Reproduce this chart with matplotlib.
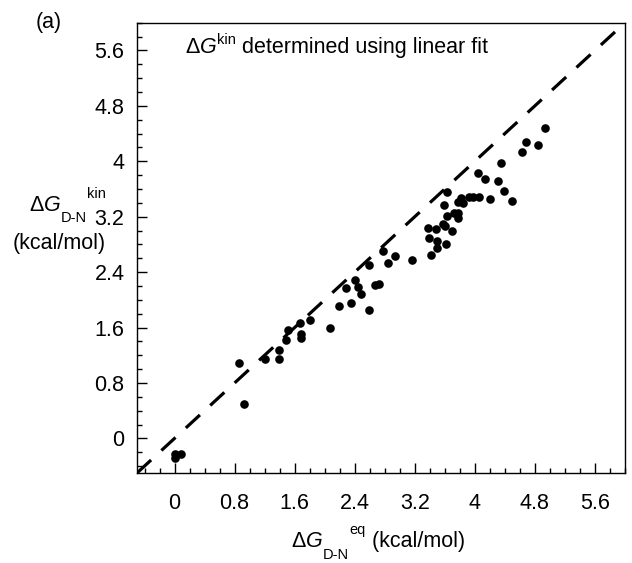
import matplotlib

matplotlib.use("Agg")
import matplotlib.pyplot as plt
import numpy as np
from matplotlib.ticker import MultipleLocator

plt.rcParams["font.family"] = "Liberation Sans"
plt.rcParams["mathtext.fontset"] = "custom"
plt.rcParams["mathtext.rm"] = "Liberation Sans"
plt.rcParams["mathtext.it"] = "Liberation Sans:italic"
plt.rcParams["mathtext.bf"] = "Liberation Sans:bold"

# dG_eq (x) vs dG_kin (y), kcal/mol
dg_eq = [0.00, 0.00, 0.08, 0.86, 0.92, 1.20, 1.39, 1.39, 1.49, 1.51,
         1.67, 1.69, 1.69, 1.81, 2.07, 2.19, 2.29, 2.35, 2.41, 2.45,
         2.49, 2.59, 2.59, 2.67, 2.72, 2.78, 2.84, 2.94, 3.16, 3.41,
         3.49, 3.61, 3.39, 3.49, 3.37, 3.48, 3.57, 3.60, 3.69, 3.63,
         3.72, 3.77, 3.78, 3.59, 3.63, 3.78, 3.81, 3.84, 3.92, 3.98,
         4.05, 4.20, 4.49, 4.39, 4.04, 4.14, 4.31, 4.35, 4.63, 4.68,
         4.84, 4.94]
dg_kin = [-0.28, -0.23, -0.23, 1.09, 0.50, 1.15, 1.27, 1.14, 1.42, 1.56,
          1.67, 1.50, 1.45, 1.71, 1.60, 1.91, 2.17, 1.95, 2.29, 2.18,
          2.09, 1.86, 2.50, 2.22, 2.23, 2.70, 2.53, 2.63, 2.57, 2.64,
          2.75, 2.81, 2.89, 2.85, 3.04, 3.02, 3.10, 3.07, 2.99, 3.21,
          3.26, 3.25, 3.18, 3.37, 3.55, 3.41, 3.47, 3.40, 3.48, 3.48,
          3.48, 3.46, 3.42, 3.57, 3.83, 3.74, 3.72, 3.97, 4.14, 4.28,
          4.23, 4.48]

tick_values = [0, 0.8, 1.6, 2.4, 3.2, 4.0, 4.8, 5.6]
tick_labels = ["0", "0.8", "1.6", "2.4", "3.2", "4", "4.8", "5.6"]
lims = (-0.5, 6.0)

W, H = 632, 563
FS = 15.5   # main text size
SS = 10.5   # sub/superscript size

fig = plt.figure(figsize=(W / 100, H / 100), dpi=100)
ax = fig.add_axes([137 / W, 1 - 473 / H, 488 / W, 450.3 / H])

# identity line y = x
ax.plot(lims, lims, color="black", lw=2.3, dashes=(6.0, 4.4),
        dash_capstyle="butt", zorder=2)
ax.plot(dg_eq, dg_kin, "o", color="black", ms=6.2, mew=0, zorder=3)

ax.set_xlim(*lims)
ax.set_ylim(*lims)
ax.set_xticks(tick_values)
ax.set_xticklabels(tick_labels)
ax.set_yticks(tick_values)
ax.set_yticklabels(tick_labels)
ax.xaxis.set_minor_locator(MultipleLocator(0.2))
ax.yaxis.set_minor_locator(MultipleLocator(0.2))
ax.tick_params(which="both", direction="in", top=False, right=False,
               width=1.0, labelsize=FS)
ax.tick_params(which="major", length=7.5)
ax.tick_params(which="minor", length=3.5)
ax.tick_params(axis="x", which="major", pad=14.5)
ax.tick_params(axis="y", which="major", pad=9)
for s in ax.spines.values():
    s.set_linewidth(1.0)

renderer = fig.canvas.get_renderer()


def chain(x, y, pieces):
    """Write text pieces one after another; x, y in pixels from top-left,
    each piece is (text, size, baseline shift in px)."""
    for txt, size, dy in pieces:
        t = fig.text(x / W, 1 - (y + dy) / H, txt, fontsize=size,
                     ha="left", va="baseline")
        x = t.get_window_extent(renderer).x1


DG = r"$\Delta\mathit{G}$"

chain(36, 28, [("(a)", FS, 0)])
chain(185, 53, [(DG, FS, 0), ("kin", SS, -9), (" determined using linear fit", FS, 0)])

# y label
chain(29, 211, [(DG, FS, 0), ("D-N", SS, 11), ("kin", SS, -13)])
chain(13, 249, [("(kcal/mol)", FS, 0)])

# x label
chain(291, 547, [(DG, FS, 0), ("D-N", SS, 12), ("eq", SS, -13), (" (kcal/mol)", FS, 0)])

fig.savefig("out.png", dpi=100, facecolor="white")
